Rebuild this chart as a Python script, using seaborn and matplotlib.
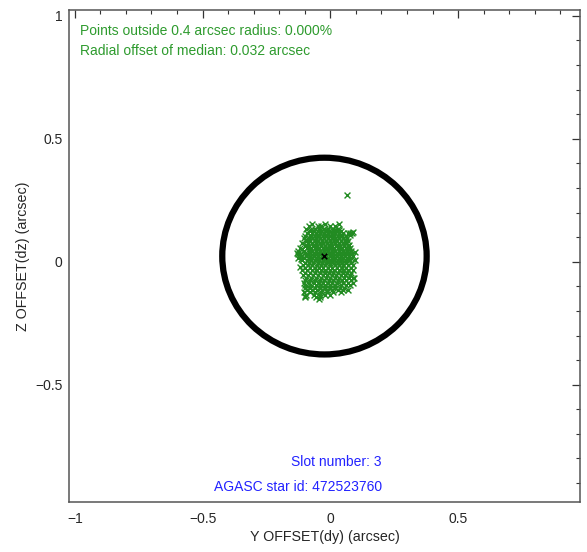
import numpy as np
import pandas as pd
import matplotlib
matplotlib.use("Agg")
import matplotlib.pyplot as plt
from matplotlib.patches import Circle
from matplotlib.ticker import MultipleLocator, FuncFormatter
import seaborn as sns

# ---- data ----
row_dz = [0.155, 0.145, 0.135, 0.125, 0.115, 0.105, 0.095, 0.085, 0.075, 0.065,
          0.055, 0.045, 0.035, 0.025, 0.015, 0.005, -0.005, -0.015, -0.025, -0.035,
          -0.045, -0.055, -0.065, -0.075, -0.085, -0.095, -0.105, -0.115, -0.125,
          -0.135, -0.145,
          0.13, 0.11, 0.09, 0.07, 0.05, 0.03, 0.01]
row_dy = [
    [-0.07, -0.02],
    [-0.085, -0.05, -0.035, 0.0, 0.02],
    [-0.095, -0.06, -0.045, -0.025, -0.01, 0.01, 0.03],
    [-0.08, -0.065, -0.05, -0.035, -0.02, -0.005, 0.01, 0.025, 0.04],
    [-0.09, -0.07, -0.055, -0.04, -0.025, -0.01, 0.005, 0.02, 0.035, 0.05, 0.07, 0.085],
    [-0.1, -0.075, -0.06, -0.045, -0.03, -0.015, 0.0, 0.015, 0.03, 0.045, 0.06],
    [-0.105, -0.085, -0.07, -0.055, -0.04, -0.025, -0.01, 0.005, 0.02, 0.035, 0.05, 0.065],
    [-0.095, -0.078, -0.062, -0.047, -0.032, -0.017, -0.002, 0.013, 0.028, 0.043, 0.058, 0.07],
    [-0.11, -0.088, -0.072, -0.057, -0.042, -0.027, -0.012, 0.003, 0.018, 0.033, 0.048, 0.063],
    [-0.1, -0.082, -0.067, -0.052, -0.037, -0.022, -0.007, 0.008, 0.023, 0.038, 0.053, 0.068],
    [-0.12, -0.09, -0.075, -0.06, -0.045, -0.03, -0.015, 0.0, 0.015, 0.03, 0.045, 0.06, 0.075],
    [-0.125, -0.105, -0.085, -0.07, -0.055, -0.04, -0.025, -0.01, 0.005, 0.02, 0.035, 0.05, 0.065, 0.08],
    [-0.13, -0.1, -0.08, -0.065, -0.05, -0.035, -0.02, -0.005, 0.01, 0.025, 0.04, 0.055, 0.07],
    [-0.115, -0.095, -0.078, -0.063, -0.048, -0.033, -0.018, -0.003, 0.012, 0.027, 0.042, 0.057, 0.072, 0.088],
    [-0.125, -0.105, -0.085, -0.07, -0.055, -0.04, -0.025, -0.01, 0.005, 0.02, 0.035, 0.05, 0.065, 0.08],
    [-0.11, -0.09, -0.075, -0.06, -0.045, -0.03, -0.015, 0.0, 0.015, 0.03, 0.045, 0.06, 0.078, 0.095],
    [-0.1, -0.082, -0.066, -0.05, -0.034, -0.018, -0.002, 0.014, 0.03, 0.046, 0.062, 0.08],
    [-0.108, -0.088, -0.07, -0.052, -0.036, -0.02, 0.0, 0.018, 0.035, 0.05, 0.068, 0.09],
    [-0.1, -0.08, -0.062, -0.045, -0.028, -0.01, 0.008, 0.025, 0.045, 0.062, 0.08],
    [-0.112, -0.09, -0.072, -0.055, -0.038, -0.02, -0.003, 0.015, 0.032, 0.05, 0.07, 0.09],
    [-0.1, -0.08, -0.06, -0.04, -0.022, -0.005, 0.012, 0.03, 0.048, 0.065, 0.082],
    [-0.108, -0.088, -0.068, -0.05, -0.03, -0.012, 0.005, 0.022, 0.04, 0.058, 0.075],
    [-0.095, -0.075, -0.055, -0.035, -0.018, 0.0, 0.018, 0.035, 0.052, 0.072, 0.09],
    [-0.1, -0.08, -0.06, -0.042, -0.025, -0.005, 0.012, 0.03, 0.045, 0.062, 0.08],
    [-0.105, -0.085, -0.065, -0.045, -0.028, -0.01, 0.008, 0.028, 0.048, 0.068, 0.088],
    [-0.098, -0.078, -0.058, -0.04, -0.02, 0.0, 0.02, 0.04, 0.06, 0.075],
    [-0.1, -0.08, -0.06, -0.04, -0.022, -0.002, 0.018, 0.038, 0.055],
    [-0.09, -0.072, -0.052, -0.032, -0.012, 0.008, 0.03, 0.05, 0.07],
    [-0.105, -0.08, -0.06, -0.035, -0.015, 0.01, 0.04],
    [-0.095, -0.065, -0.04, -0.02, 0.0],
    [-0.1, -0.055, -0.04],
    [-0.075, -0.04, -0.015, 0.02, 0.035],
    [-0.08, -0.048, -0.018, 0.012, 0.042, 0.078],
    [-0.09, -0.062, -0.032, -0.003, 0.027, 0.057],
    [-0.095, -0.065, -0.035, -0.005, 0.025, 0.055, 0.072],
    [-0.11, -0.08, -0.05, -0.02, 0.01, 0.04, 0.07],
    [-0.12, -0.09, -0.058, -0.028, 0.002, 0.032, 0.062, 0.08],
    [-0.115, -0.08, -0.05, -0.02, 0.01, 0.04, 0.07],
]
edge_dy = [0.066, 0.078, 0.088, -0.128, 0.094, -0.098, -0.043, 0.034, -0.118, 0.097]
edge_dz = [0.273, 0.118, 0.121, 0.032, -0.068, -0.139, -0.150, 0.152, -0.02, 0.04]

median_dy = -0.023
median_dz = 0.023
radius = 0.4

info_lines = ["Points outside 0.4 arcsec radius: 0.000%",
              "Radial offset of median: 0.032 arcsec"]
slot_text = "Slot number: 3"
star_text = "AGASC star id: 472523760"

xticks = [-1, -0.5, 0, 0.5]
yticks = [-0.5, 0, 0.5, 1]

# ---- build table ----
dy = [v for row in row_dy for v in row] + edge_dy
dz = [z for z, row in zip(row_dz, row_dy) for _ in row] + edge_dz
df = pd.DataFrame({"dy": dy, "dz": dz})

sns.set_style("white")
plt.rcParams['font.family'] = ['Liberation Sans', 'DejaVu Sans']

fig = plt.figure(figsize=(5.87, 5.52), dpi=100)
ax = fig.add_axes([0.1175, 0.0906, 0.8705, 0.891])

sns.scatterplot(data=df, x="dy", y="dz", marker="x", color="#228B22",
                s=18, linewidth=1.0, ax=ax, legend=False, zorder=3)
ax.scatter([median_dy], [median_dz], marker="x", color="black", s=16,
           linewidth=1.1, zorder=4)
ax.add_patch(Circle((median_dy, median_dz), radius, fill=False,
                    edgecolor="black", linewidth=4.5, zorder=2))

ax.set_xlim(median_dy - 1, median_dy + 1)
ax.set_ylim(median_dz - 1, median_dz + 1)
ax.set_xticks(xticks)
ax.set_yticks(yticks)
ax.xaxis.set_minor_locator(MultipleLocator(0.1))
ax.yaxis.set_minor_locator(MultipleLocator(0.1))
fmt = FuncFormatter(lambda v, p: ("%g" % v).replace("-", "\u2212"))
ax.xaxis.set_major_formatter(fmt)
ax.yaxis.set_major_formatter(fmt)
ax.tick_params(which="both", direction="in", top=True, right=True,
               color="#333333", labelsize=10)
ax.tick_params(which="major", length=6, width=0.9)
ax.tick_params(which="minor", length=3, width=0.8)
ax.tick_params(axis="x", which="major", pad=7)
ax.tick_params(axis="y", which="major", pad=4.5)
for s in ax.spines.values():
    s.set_color("#555555")
    s.set_linewidth(1.1)

ax.set_xlabel("Y OFFSET(dy) (arcsec)", fontsize=10.3, labelpad=3)
ax.set_ylabel("Z OFFSET(dz) (arcsec)", fontsize=10.3, labelpad=4)

ax.text(0.0215, 0.957, info_lines[0], transform=ax.transAxes, color="#2e9b2e",
        fontsize=10, va="center", ha="left")
ax.text(0.0215, 0.917, info_lines[1], transform=ax.transAxes, color="#2e9b2e",
        fontsize=10, va="center", ha="left")
ax.text(0.6125, 0.081, slot_text, transform=ax.transAxes, color="#2222ff",
        fontsize=10, va="center", ha="right")
ax.text(0.6125, 0.030, star_text, transform=ax.transAxes, color="#2222ff",
        fontsize=10, va="center", ha="right")

fig.savefig("out.png", dpi=100)
